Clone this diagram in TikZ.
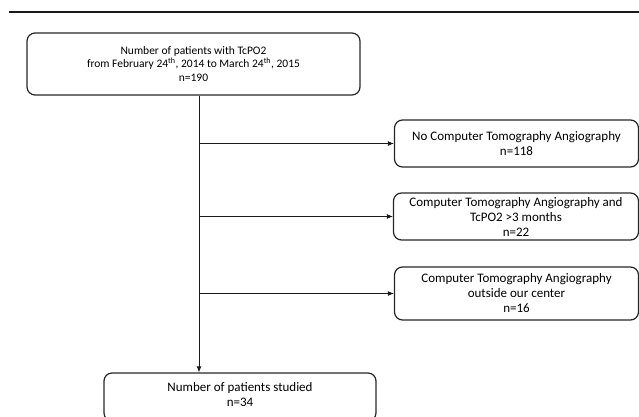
\documentclass[tikz,border=0pt]{standalone}
\usepackage{fontspec}
\setmainfont{Carlito}
\usetikzlibrary{arrows.meta}
\tikzset{>={Latex[length=6pt,width=5pt]}}
\tikzset{
	flowbox/.style={draw=black!85, line width=1.2pt, rounded corners=8pt, align=center, inner sep=0pt, font=\fontsize{13}{15}\selectfont},
	flowline/.style={line width=0.9pt, black!90}
}

\begin{document}
\begin{tikzpicture}[x=1pt,y=-1pt]
	\useasboundingbox (0,0) rectangle (639,417);
%	\draw[help lines,step=20] (0,0) grid (639,417);
	\draw [line width=2pt, black!90] (9,12) -- (639,12);
	\coordinate (spine) at (199,0);
	\node [flowbox, minimum width=333pt, minimum height=62pt, font=\fontsize{11.5}{13.5}\selectfont] (top) at (193.5,64)
		{Number of patients with TcPO2\\ from February 24\textsuperscript{th}, 2014 to March 24\textsuperscript{th}, 2015\\ n=190};
	\node [flowbox, minimum width=244pt, minimum height=47pt] (noct) at (516.5,143.5)
		{No Computer Tomography Angiography\\ n=118};
	\node [flowbox, minimum width=245pt, minimum height=47pt] (late) at (516,216.5)
		{Computer Tomography Angiography and\\ TcPO2 >3 months\\ n=22};
	\node [flowbox, minimum width=244pt, minimum height=53pt] (outside) at (516.5,293.5)
		{Computer Tomography Angiography\\ outside our center\\ n=16};
	\node [flowbox, minimum width=272pt, minimum height=48pt, text depth=6pt] (studied) at (240,397)
		{Number of patients studied\\ n=34};
	\draw [flowline, ->] (top.south -| spine) -- (studied.north -| spine);
	\draw [flowline, ->] (noct.west -| spine) -- (noct.west);
	\draw [flowline, ->] (late.west -| spine) -- (late.west);
	\draw [flowline, ->] (outside.west -| spine) -- (outside.west);
\end{tikzpicture}
\end{document}
